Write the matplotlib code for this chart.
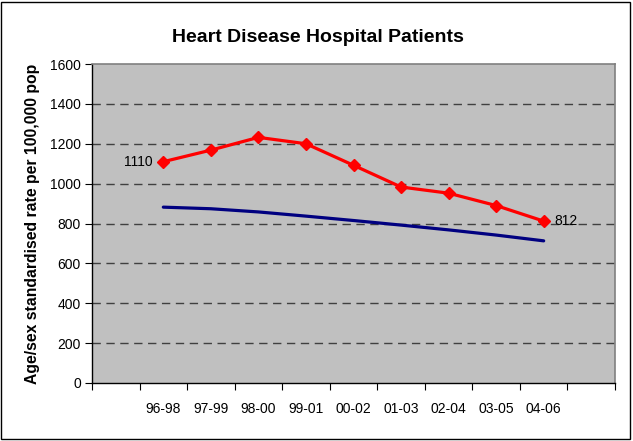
import matplotlib
matplotlib.use("Agg")
import matplotlib.pyplot as plt
from matplotlib.patches import Rectangle

plt.rcParams['font.family'] = ['Liberation Sans', 'DejaVu Sans']

title = "Heart Disease Hospital Patients"
ylabel = "Age/sex standardised rate per 100,000 pop"
periods = ["96-98", "97-99", "98-00", "99-01", "00-02", "01-03", "02-04", "03-05", "04-06"]
local_rate = [1110, 1168, 1232, 1200, 1092, 983, 952, 890, 812]
comparator_rate = [882, 874, 858, 837, 815, 792, 768, 742, 713]
yticks = [0, 200, 400, 600, 800, 1000, 1200, 1400, 1600]

fig = plt.figure(figsize=(6.33, 4.41), dpi=100)
ax = fig.add_axes([92/633, 1-383/441, (615-92)/633, (383-64)/441])
ax.set_facecolor('#C0C0C0')

n_slots = len(periods) + 2
xs = [i + 1.5 for i in range(len(periods))]

for y in yticks[1:-1]:
    ax.axhline(y, color='#404040', lw=1.0, ls=(0, (6, 4)), zorder=1)

ax.plot(xs, comparator_rate, color='#000080', lw=2.3, zorder=3, solid_capstyle='round')
ax.plot(xs, local_rate, color='#FF0000', lw=2.3, marker='D', ms=6.5, zorder=4)

ax.annotate(str(local_rate[0]), (xs[0], local_rate[0]), xytext=(-8, 0), textcoords='offset points',
            ha='right', va='center', fontsize=10)
ax.annotate(str(local_rate[-1]), (xs[-1], local_rate[-1]), xytext=(8, 0), textcoords='offset points',
            ha='left', va='center', fontsize=10)

ax.set_xlim(0, n_slots)
ax.set_ylim(0, 1600)
ax.set_yticks(yticks)
ax.set_yticklabels([str(v) for v in yticks], fontsize=10)
ax.set_xticks(range(n_slots + 1))
ax.set_xticklabels([])
ax.set_xticks([i + 0.5 for i in range(n_slots)], minor=True)
ax.set_xticklabels([""] + periods + [""], minor=True, fontsize=10)
ax.tick_params(axis='x', which='minor', length=0, pad=14)
ax.tick_params(axis='x', which='major', length=5, direction='out', color='black')
ax.tick_params(axis='y', length=5, direction='out', color='black', pad=3)

for side in ['top', 'right']:
    ax.spines[side].set_color('#808080')
    ax.spines[side].set_linewidth(1.2)
for side in ['left', 'bottom']:
    ax.spines[side].set_color('black')
    ax.spines[side].set_linewidth(1.0)

fig.text(318/633, 1-38/441, title, ha='center', va='center', fontsize=14, fontweight='bold')
fig.text(33/633, 1-(383+64)/2/441, ylabel, ha='center', va='center', rotation=90,
         fontsize=11.3, fontweight='bold')

fig.patches.append(Rectangle((0.002, 0.004), 0.994, 0.992, transform=fig.transFigure,
                             fill=False, edgecolor='black', lw=1.0))

fig.savefig('out.png', dpi=100)
